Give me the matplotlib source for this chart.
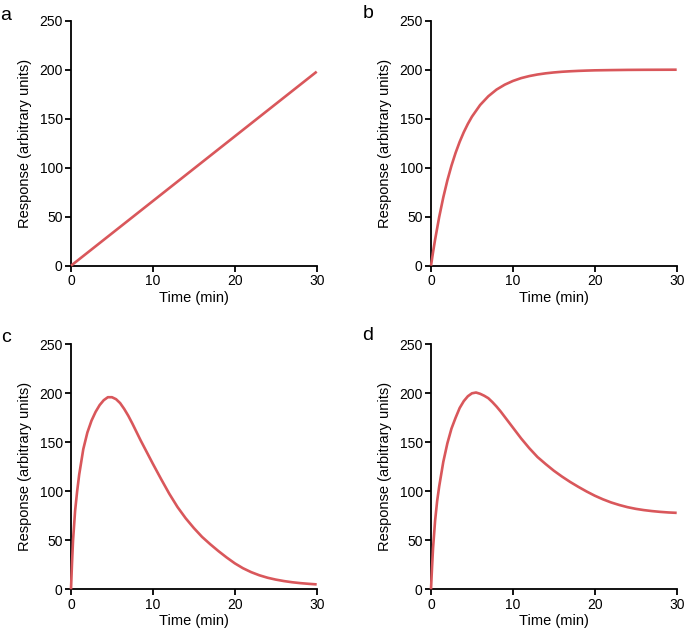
import matplotlib
matplotlib.use("Agg")
import matplotlib.pyplot as plt

plt.rcParams['font.family'] = ['Liberation Sans', 'DejaVu Sans']

# Daten
# -----------------------------------------------------------------------------
zeit_a = [0, 10, 20, 30]
wert_a = [0, 66, 132, 198]

zeit_b = [0, 0.25, 0.5, 1, 1.5, 2, 2.5, 3, 3.5, 4, 4.5, 5, 6, 7, 8, 9, 10,
          11, 12, 13, 14, 15, 16, 17, 18, 19, 20, 22, 24, 26, 30]
wert_b = [0, 13.8, 26.6, 49.7, 69.7, 87.1, 102.1, 115.1, 126.4, 136.2, 144.7,
          152.1, 164, 172.9, 179.7, 184.7, 188.5, 191.4, 193.5, 195.1, 196.3,
          197.2, 197.9, 198.4, 198.8, 199.1, 199.35, 199.6, 199.8, 199.9, 200]

zeit_c = [0, 0.125, 0.25, 0.5, 0.75, 1, 1.5, 2, 2.5, 3, 3.5, 4, 4.5, 5, 5.5,
          6, 6.5, 7, 7.5, 8, 8.5, 9, 10, 11, 12, 13, 14, 15, 16, 17, 18, 19,
          20, 21, 22, 23, 24, 25, 26, 27, 28, 29, 30]
wert_c = [0, 27, 50, 80, 100, 117, 143, 160, 172, 181, 188, 193, 196, 196,
          194, 190, 184, 177, 169, 160.5, 152, 144, 128, 112.5, 97.5, 84,
          72.5, 62.5, 53.5, 46, 39, 32.5, 26.5, 21.5, 17.5, 14.3, 11.8, 9.9,
          8.4, 7.2, 6.3, 5.6, 5]

zeit_d = [0, 0.125, 0.25, 0.5, 0.75, 1, 1.5, 2, 2.5, 3, 3.5, 4, 4.5, 5, 5.5,
          6, 6.5, 7, 7.5, 8, 8.5, 9, 10, 11, 12, 13, 14, 15, 16, 17, 18, 19,
          20, 21, 22, 23, 24, 25, 26, 27, 28, 29, 30]
wert_d = [0, 22, 42, 70, 90, 105, 130, 149, 164, 175, 185, 192, 197, 200,
          200.8, 199.5, 197.5, 195, 191, 186.5, 181.5, 176, 165, 154, 144,
          135, 127.8, 121, 115, 109.5, 104.5, 99.8, 95.5, 91.8, 88.6, 86,
          83.8, 82.1, 80.8, 79.8, 79, 78.4, 78]

x_ticks = [0, 10, 20, 30]
y_ticks = [0, 50, 100, 150, 200, 250]
panel_namen = ["a", "b", "c", "d"]

farbe = "#d9575b"

fig = plt.figure(figsize=(6.85, 6.35), dpi=100)

# Achsenpositionen in Pixel (links, unten)
positionen = [(71, 265.7), (431, 265.7), (71, 589.3), (431, 589.3)]
breite = 245.7
hoehe = 245.0
label_pos = [(6, 15), (368, 14), (6, 338), (368, 336)]

daten = [(zeit_a, wert_a), (zeit_b, wert_b), (zeit_c, wert_c), (zeit_d, wert_d)]

for i, (zeit, wert) in enumerate(daten):
    links, unten = positionen[i]
    ax = fig.add_axes([links / 685, 1 - unten / 635, breite / 685, hoehe / 635])
    ax.plot(zeit, wert, color=farbe, lw=1.9, clip_on=False, zorder=3,
            solid_capstyle="butt", solid_joinstyle="round")
    ax.set_xlim(0, 30)
    ax.set_ylim(0, 250)
    ax.set_xticks(x_ticks)
    ax.set_yticks(y_ticks)
    for s in ["top", "right"]:
        ax.spines[s].set_visible(False)
    for s in ["left", "bottom"]:
        ax.spines[s].set_linewidth(1.3)
    ax.tick_params(direction="out", length=4, width=1.3, labelsize=10, pad=2)
    ax.set_xlabel("Time (min)", fontsize=10.5, labelpad=2)
    ax.set_ylabel("Response (arbitrary units)", fontsize=10.5, labelpad=5)
    lx, ly = label_pos[i]
    fig.text(lx / 685, 1 - ly / 635, panel_namen[i], fontsize=14,
             ha="center", va="center")

fig.savefig("out.png", dpi=100)
